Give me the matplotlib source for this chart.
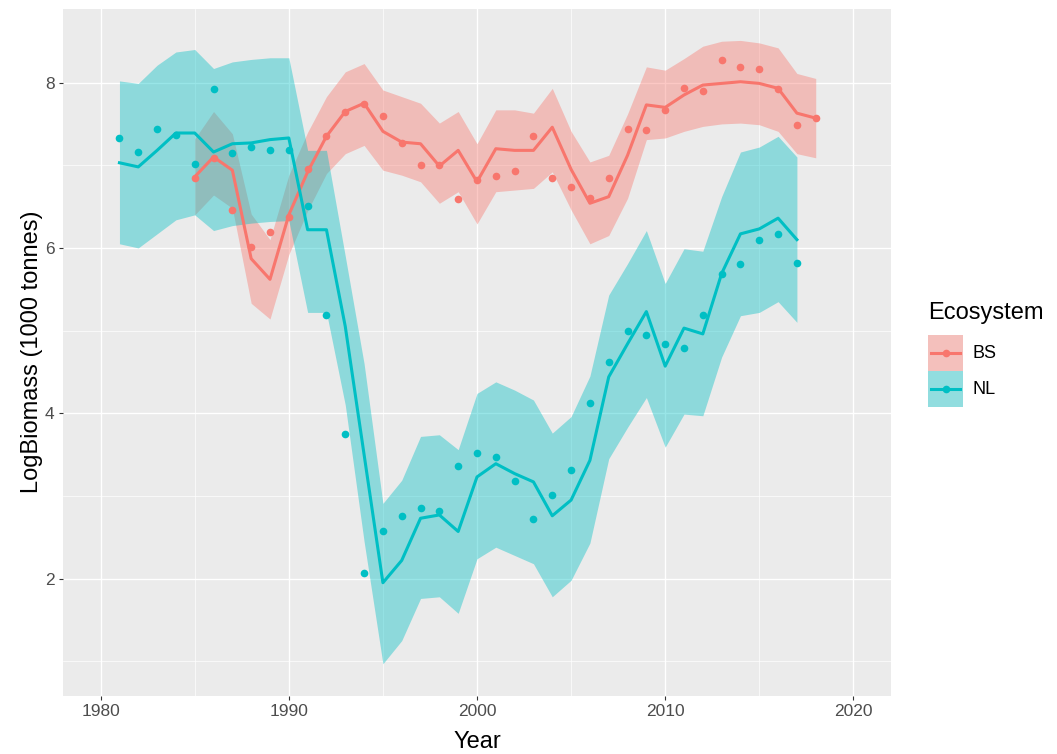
import numpy as np
import matplotlib
matplotlib.use("Agg")
import matplotlib.pyplot as plt
from matplotlib.ticker import MultipleLocator

plt.rcParams['font.family'] = ['Liberation Sans', 'DejaVu Sans']

# Barents Sea stock: observed biomass, fitted trend and confidence band
bs_years = np.arange(1985, 2019)
bs_obs = [6.85, 7.09, 6.46, 6.01, 6.19, 6.38, 6.95, 7.35, 7.64, 7.74,
          7.59, 7.27, 7.00, 7.00, 6.59, 6.82, 6.87, 6.93, 7.35, 6.84,
          6.74, 6.60, 6.84, 7.44, 7.43, 7.67, 7.93, 7.90, 8.27, 8.19,
          8.17, 7.92, 7.49, 7.57]
bs_fit = [6.86, 7.10, 6.94, 5.87, 5.62, 6.40, 6.92, 7.35, 7.65, 7.75,
          7.41, 7.28, 7.26, 6.99, 7.18, 6.80, 7.20, 7.18, 7.18, 7.46,
          6.95, 6.54, 6.62, 7.12, 7.73, 7.70, 7.85, 7.97, 7.99, 8.01,
          7.99, 7.93, 7.63, 7.57]
bs_lo = [6.40, 6.64, 6.48, 5.33, 5.14, 5.92, 6.45, 6.90, 7.14, 7.24,
         6.94, 6.88, 6.80, 6.54, 6.68, 6.29, 6.68, 6.70, 6.72, 6.92,
         6.46, 6.05, 6.15, 6.60, 7.31, 7.33, 7.41, 7.47, 7.50, 7.51,
         7.49, 7.41, 7.14, 7.09]
bs_hi = [7.32, 7.65, 7.38, 6.41, 6.10, 6.88, 7.40, 7.83, 8.13, 8.23,
         7.91, 7.83, 7.75, 7.51, 7.65, 7.26, 7.67, 7.67, 7.63, 7.93,
         7.41, 7.04, 7.12, 7.62, 8.19, 8.15, 8.29, 8.44, 8.50, 8.51,
         8.48, 8.42, 8.11, 8.05]

# Newfoundland-Labrador stock
nl_years = np.arange(1981, 2018)
nl_obs = [7.33, 7.16, 7.44, 7.37, 7.01, 7.92, 7.15, 7.22, 7.18, 7.18,
          6.51, 5.19, 3.75, 2.07, 2.57, 2.76, 2.86, 2.82, 3.36, 3.52,
          3.47, 3.18, 2.72, 3.01, 3.31, 4.13, 4.62, 4.99, 4.95, 4.84,
          4.79, 5.19, 5.68, 5.81, 6.09, 6.17, 5.82]
nl_fit = [7.03, 6.98, 7.18, 7.39, 7.39, 7.16, 7.26, 7.27, 7.31, 7.33,
          6.22, 6.22, 5.05, 3.50, 1.95, 2.22, 2.73, 2.77, 2.57, 3.23,
          3.39, 3.27, 3.17, 2.76, 2.95, 3.43, 4.44, 4.84, 5.23, 4.57,
          5.03, 4.96, 5.69, 6.17, 6.23, 6.36, 6.10]
nl_lo = [6.05, 6.00, 6.17, 6.34, 6.40, 6.21, 6.27, 6.30, 6.32, 6.33,
         5.22, 5.22, 4.10, 2.45, 0.97, 1.25, 1.76, 1.78, 1.58, 2.24,
         2.38, 2.28, 2.18, 1.78, 1.98, 2.43, 3.45, 3.83, 4.19, 3.59,
         3.99, 3.97, 4.68, 5.18, 5.22, 5.35, 5.10]
nl_hi = [8.02, 7.99, 8.21, 8.37, 8.40, 8.17, 8.25, 8.28, 8.30, 8.30,
         7.18, 7.18, 5.90, 4.60, 2.91, 3.19, 3.72, 3.74, 3.56, 4.24,
         4.38, 4.28, 4.16, 3.76, 3.96, 4.45, 5.43, 5.81, 6.21, 5.57,
         5.99, 5.96, 6.62, 7.16, 7.22, 7.35, 7.10]

groups = ["BS", "NL"]
colors = {"BS": "#F8766D", "NL": "#00BFC4"}
series = {
    "BS": (bs_years, bs_obs, bs_fit, bs_lo, bs_hi),
    "NL": (nl_years, nl_obs, nl_fit, nl_lo, nl_hi),
}

W, H = 1057, 754
fig = plt.figure(figsize=(W / 100, H / 100), dpi=100)
ax = fig.add_axes([63 / W, 1 - 696 / H, (891 - 63) / W, (696 - 9) / H])
ax.set_facecolor("#EBEBEB")

# ribbons first, then lines, then points on top
for g in groups:
    yr, obs, fit, lo, hi = series[g]
    ax.fill_between(yr, lo, hi, color=colors[g], alpha=0.4, lw=0, zorder=2)
for g in groups:
    yr, obs, fit, lo, hi = series[g]
    ax.plot(yr, fit, color=colors[g], lw=2.2, zorder=3)
for g in groups:
    yr, obs, fit, lo, hi = series[g]
    ax.plot(yr, obs, "o", color=colors[g], ms=5.5, mew=0, zorder=4)

ax.set_xlim(1978, 2022)
ax.set_ylim(0.58, 8.89)
ax.xaxis.set_major_locator(MultipleLocator(10))
ax.xaxis.set_minor_locator(MultipleLocator(5))
ax.yaxis.set_major_locator(MultipleLocator(2))
ax.yaxis.set_minor_locator(MultipleLocator(1))
ax.grid(which="major", color="white", lw=1.0, zorder=0)
ax.grid(which="minor", color="white", lw=0.5, zorder=0)
ax.set_axisbelow(True)
for s in ax.spines.values():
    s.set_visible(False)
ax.tick_params(which="major", length=3, width=0.8, color="#333333",
               labelcolor="#4D4D4D", labelsize=12.5, pad=3)
ax.tick_params(which="minor", length=0)

fig.text(477 / W, 1 - 742 / H, "Year", fontsize=17, ha="center", va="center")
fig.text(32 / W, 1 - 352 / H, "LogBiomass (1000 tonnes)", fontsize=17,
         rotation=90, ha="center", va="center")

# legend drawn as small key panels
fig.text(928 / W, 1 - 313 / H, "Ecosystem", fontsize=17, ha="left", va="center")
key_top = 335
for i, g in enumerate(groups):
    y0 = key_top + i * 36
    kax = fig.add_axes([928 / W, 1 - (y0 + 36) / H, 35 / W, 36 / H])
    kax.set_facecolor("#F2F2F2")
    kax.set_xlim(0, 1)
    kax.set_ylim(0, 1)
    kax.axhspan(0, 1, color=colors[g], alpha=0.4, lw=0)
    kax.plot([0.08, 0.92], [0.5, 0.5], color=colors[g], lw=2.2)
    kax.plot([0.5], [0.5], "o", color=colors[g], ms=5.5, mew=0)
    kax.set_xticks([])
    kax.set_yticks([])
    for s in kax.spines.values():
        s.set_visible(False)
    fig.text(973 / W, 1 - (y0 + 19) / H, g, fontsize=13, ha="left", va="center")

fig.savefig("out.png", dpi=100)
